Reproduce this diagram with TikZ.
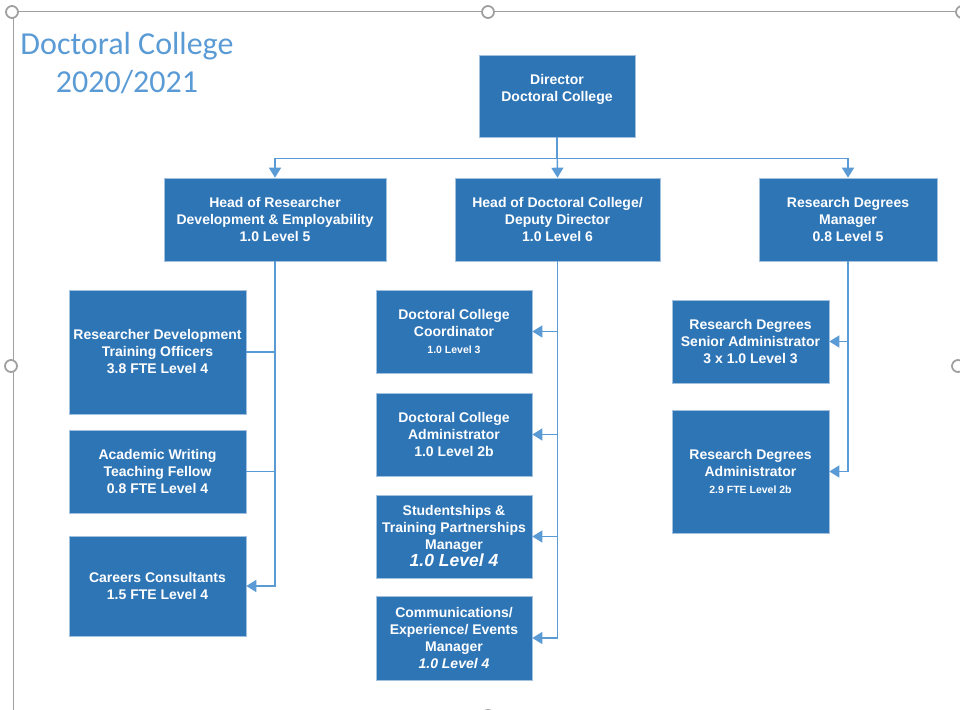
\documentclass[tikz,border=0pt]{standalone}
\usepackage{fontspec}
\setmainfont{Liberation Sans}
\newfontfamily\titlefont{Carlito}
\usetikzlibrary{arrows.meta,calc}
\definecolor{boxblue}{HTML}{2E75B6}
\definecolor{linkblue}{HTML}{5B9BD5}
\definecolor{framegray}{HTML}{A0A0A0}
\newcommand\smallrow[1]{{\fontsize{10.5}{13}\selectfont #1}}

\begin{document}
\begin{tikzpicture}[x=1pt,y=-1pt,
  post/.style={draw=boxblue!45!white,line width=0.6pt,fill=boxblue,text=white,
    font=\bfseries\fontsize{14}{17}\selectfont,align=center,inner sep=0pt},
  link/.style={draw=linkblue,line width=1.4pt},
  feed/.style={link,-{Triangle[length=10pt,width=12pt]}},
  handle/.style={draw=framegray,line width=1.8pt,fill=white}]
\useasboundingbox (0,0) rectangle (960,709);

% selection frame
\draw[framegray,line width=1pt] (12,12) -- (970,12) (13,12) -- (13,720);
\foreach \hx/\hy in {12/12,488/12,962/12,11/366,958/366,488/716}
  \draw[handle] (\hx,\hy) circle (6);

\node[font=\titlefont\fontsize{32}{38}\selectfont,text=linkblue,align=center] (title) at (127,63) {Doctoral College\\2020/2021};

% top levels
\node[post,minimum width=156pt,minimum height=82pt] (dir) at (557,96) {Director\\Doctoral College\\ \mbox{}};
\node[post,minimum width=222pt,minimum height=83pt] (hrd) at (275,219.5) {Head of Researcher\\Development \& Employability\\1.0 Level 5};
\node[post,minimum width=205pt,minimum height=83pt] (hdc) at (557.5,219.5) {Head of Doctoral College/\\Deputy Director\\1.0 Level 6};
\node[post,minimum width=178pt,minimum height=83pt] (rdm) at (848,219.5) {Research Degrees\\Manager\\0.8 Level 5};

% left column
\node[post,minimum width=177pt,minimum height=124pt] (rdto) at (157.5,352) {Researcher Development\\Training Officers\\3.8 FTE Level 4};
\node[post,minimum width=177pt,minimum height=83pt] (awtf) at (157.5,471.5) {Academic Writing\\Teaching Fellow\\0.8 FTE Level 4};
\node[post,minimum width=177pt,minimum height=100pt] (cc) at (157.5,586) {Careers Consultants\\1.5 FTE Level 4};

% middle column
\node[post,minimum width=156pt,minimum height=83pt] (dcc) at (454,331.5) {Doctoral College\\Coordinator\\\smallrow{1.0 Level 3}};
\node[post,minimum width=156pt,minimum height=83pt] (dca) at (454,434.5) {Doctoral College\\Administrator\\1.0 Level 2b};
\node[post,minimum width=156pt,minimum height=83pt] (stpm) at (454,536.5) {Studentships \&\\Training Partnerships\\Manager\\{\fontsize{17.5}{20}\selectfont\itshape 1.0 Level 4}};
\node[post,minimum width=156pt,minimum height=84pt] (ceem) at (454,638) {Communications/\\Experience/ Events\\Manager\\{\itshape 1.0 Level 4}};

% right column
\node[post,minimum width=157pt,minimum height=83pt] (rdsa) at (750.5,341.5) {Research Degrees\\Senior Administrator\\3 x 1.0 Level 3};
\node[post,minimum width=157pt,minimum height=123pt] (rda) at (750.5,471.5) {Research Degrees\\Administrator\\\smallrow{2.9 FTE Level 2b}};

% connectors
\draw[link] (dir.south) -- ++(0,21) coordinate (bus);
\draw[feed] (bus) -| (hrd.north);
\draw[feed] (bus) -| (rdm.north);
\draw[feed] (dir.south) -- (hdc.north);
\draw[feed] (hrd.south) |- (cc.east);
\draw[link] (rdto.east) -- (rdto.east -| hrd.south);
\draw[link] (awtf.east) -- (awtf.east -| hrd.south);
\draw[feed] (hdc.south) |- (ceem.east);
\foreach \n in {dcc,dca,stpm}
  \draw[feed] (hdc.south |- \n.east) -- (\n.east);
\draw[feed] (rdm.south) |- (rda.east);
\draw[feed] (rdm.south |- rdsa.east) -- (rdsa.east);
\end{tikzpicture}
\end{document}
